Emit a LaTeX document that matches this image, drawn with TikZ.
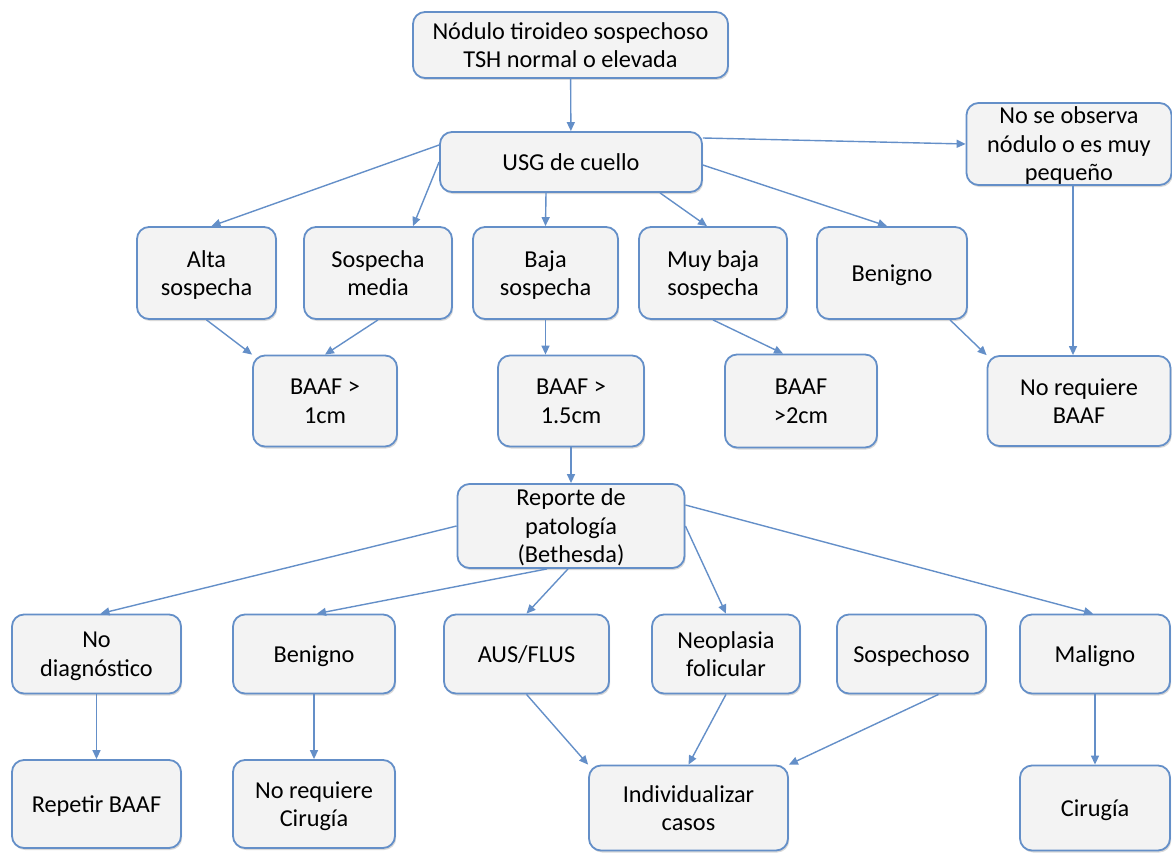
\documentclass[tikz,border=0pt]{standalone}
\usepackage{fontspec}
\setmainfont{Carlito}
\usepackage{tikz}
\usetikzlibrary{arrows.meta, shadows}
\definecolor{boxblue}{RGB}{100,143,200}
\definecolor{boxfill}{RGB}{243,243,243}

\begin{document}
\begin{tikzpicture}[
			x=1pt, y=-1pt,
			box/.style={rectangle, rounded corners=12pt, draw=boxblue, line width=1.8pt, fill=boxfill,
				align=center, inner sep=2pt, text depth=0pt, font=\fontsize{24.3}{28.5}\selectfont,
				drop shadow={shadow xshift=1.2pt, shadow yshift=-2pt, opacity=0.25, fill=black!60}},
			arr/.style={-{Triangle[length=9pt, width=8pt]}, draw=boxblue, line width=1.4pt}
			]
			\useasboundingbox (0,0) rectangle (1172,856);
			
			% first levels
			\node[box, minimum width=315pt, minimum height=66pt] (top) at (570.5,45) {Nódulo tiroideo sospechoso\\TSH normal o elevada};
			\node[box, minimum width=262pt, minimum height=60pt] (usg) at (571,162) {USG de cuello};
			\node[box, minimum width=205pt, minimum height=82pt] (noobs) at (1069,144) {No se observa\\nódulo o es muy\\pequeño};
			
			\node[box, minimum width=139pt, minimum height=92pt] (alta) at (206.5,273) {Alta\\sospecha};
			\node[box, minimum width=148pt, minimum height=92pt] (media) at (378,273) {Sospecha\\media};
			\node[box, minimum width=145pt, minimum height=92pt] (baja) at (545.5,273) {Baja\\sospecha};
			\node[box, minimum width=148pt, minimum height=92pt] (muybaja) at (713,273) {Muy baja\\sospecha};
			\node[box, minimum width=150pt, minimum height=92pt] (benignoA) at (892,273) {Benigno};
			
			\node[box, minimum width=144pt, minimum height=91pt] (baafA) at (325,401) {BAAF >\\1cm};
			\node[box, minimum width=146pt, minimum height=91pt] (baafB) at (571,401) {BAAF >\\1.5cm};
			\node[box, minimum width=152pt, minimum height=93pt] (baafC) at (801,401) {BAAF\\>2cm};
			\node[box, minimum width=183pt, minimum height=90pt] (noreqbaaf) at (1079,401) {No requiere\\BAAF};
			
			% Bethesda
			\node[box, minimum width=227pt, minimum height=84pt] (reporte) at (571,526) {Reporte de\\patología\\(Bethesda)};
			
			\node[box, minimum width=169pt, minimum height=79pt] (nodiag) at (96.5,654) {No\\diagnóstico};
			\node[box, minimum width=162pt, minimum height=79pt] (benignoB) at (314,654) {Benigno};
			\node[box, minimum width=165pt, minimum height=79pt] (aus) at (526.5,654) {AUS/FLUS};
			\node[box, minimum width=148pt, minimum height=79pt] (neo) at (726,654) {Neoplasia\\folicular};
			\node[box, minimum width=149pt, minimum height=79pt] (sosp) at (911.5,654) {Sospechoso};
			\node[box, minimum width=150pt, minimum height=79pt] (maligno) at (1095,654) {Maligno};
			
			\node[box, minimum width=169pt, minimum height=88pt] (repetir) at (96.5,804) {Repetir BAAF};
			\node[box, minimum width=162pt, minimum height=88pt] (noreqcir) at (314,804) {No requiere\\Cirugía};
			\node[box, minimum width=199pt, minimum height=85pt] (indiv) at (688.5,808) {Individualizar\\casos};
			\node[box, minimum width=150pt, minimum height=85pt] (cirugia) at (1095,808) {Cirugía};
			
			% connectors
			\draw[arr] (top) -- (usg);
			\draw[arr] ([yshift=17pt]usg.west) -- ([xshift=5pt]alta.north);
			\draw[arr] (usg.west) -- ([xshift=35pt]media.north);
			\draw[arr] ([xshift=-25pt]usg.south) -- (baja.north);
			\draw[arr] ([xshift=89pt]usg.south) -- ([xshift=-6pt]muybaja.north);
			\draw[arr] ([yshift=-3pt]usg.east) -- ([xshift=-5pt]benignoA.north);
			\draw[arr] ([yshift=24pt]usg.east) -- (noobs.west);
			\draw[arr] ([xshift=4pt]noobs.south) -- ([xshift=4pt]noobs.south |- noreqbaaf.north);
			
			\draw[arr] (alta.south) -- (baafA.north west);
			\draw[arr] (media.south) -- (baafA.north);
			\draw[arr] (baja.south) -- (baja.south |- baafB.north);
			\draw[arr] (muybaja.south) -- ([xshift=-18pt]baafC.north);
			\draw[arr] ([xshift=58pt]benignoA.south) -- (noreqbaaf.north west);
			\draw[arr] (baafB) -- (reporte);
			
			\draw[arr] (reporte.west) -- ([xshift=4pt]nodiag.north);
			\draw[arr] ([xshift=-24pt]reporte.south) -- ([xshift=3pt]benignoB.north);
			\draw[arr] ([xshift=-3pt]reporte.south) -- (aus.north);
			\draw[arr] (reporte.east) -- (neo.north);
			\draw[arr] ([yshift=21pt]reporte.east) -- ([xshift=-2pt]maligno.north);
			
			\draw[arr] (nodiag) -- (repetir);
			\draw[arr] (benignoB) -- (noreqcir);
			\draw[arr] (aus.south) -- (indiv.north west);
			\draw[arr] (neo.south) -- (indiv.north);
			\draw[arr] ([xshift=27pt]sosp.south) -- (indiv.north east);
			\draw[arr] (maligno) -- (cirugia);
		\end{tikzpicture}
\end{document}
